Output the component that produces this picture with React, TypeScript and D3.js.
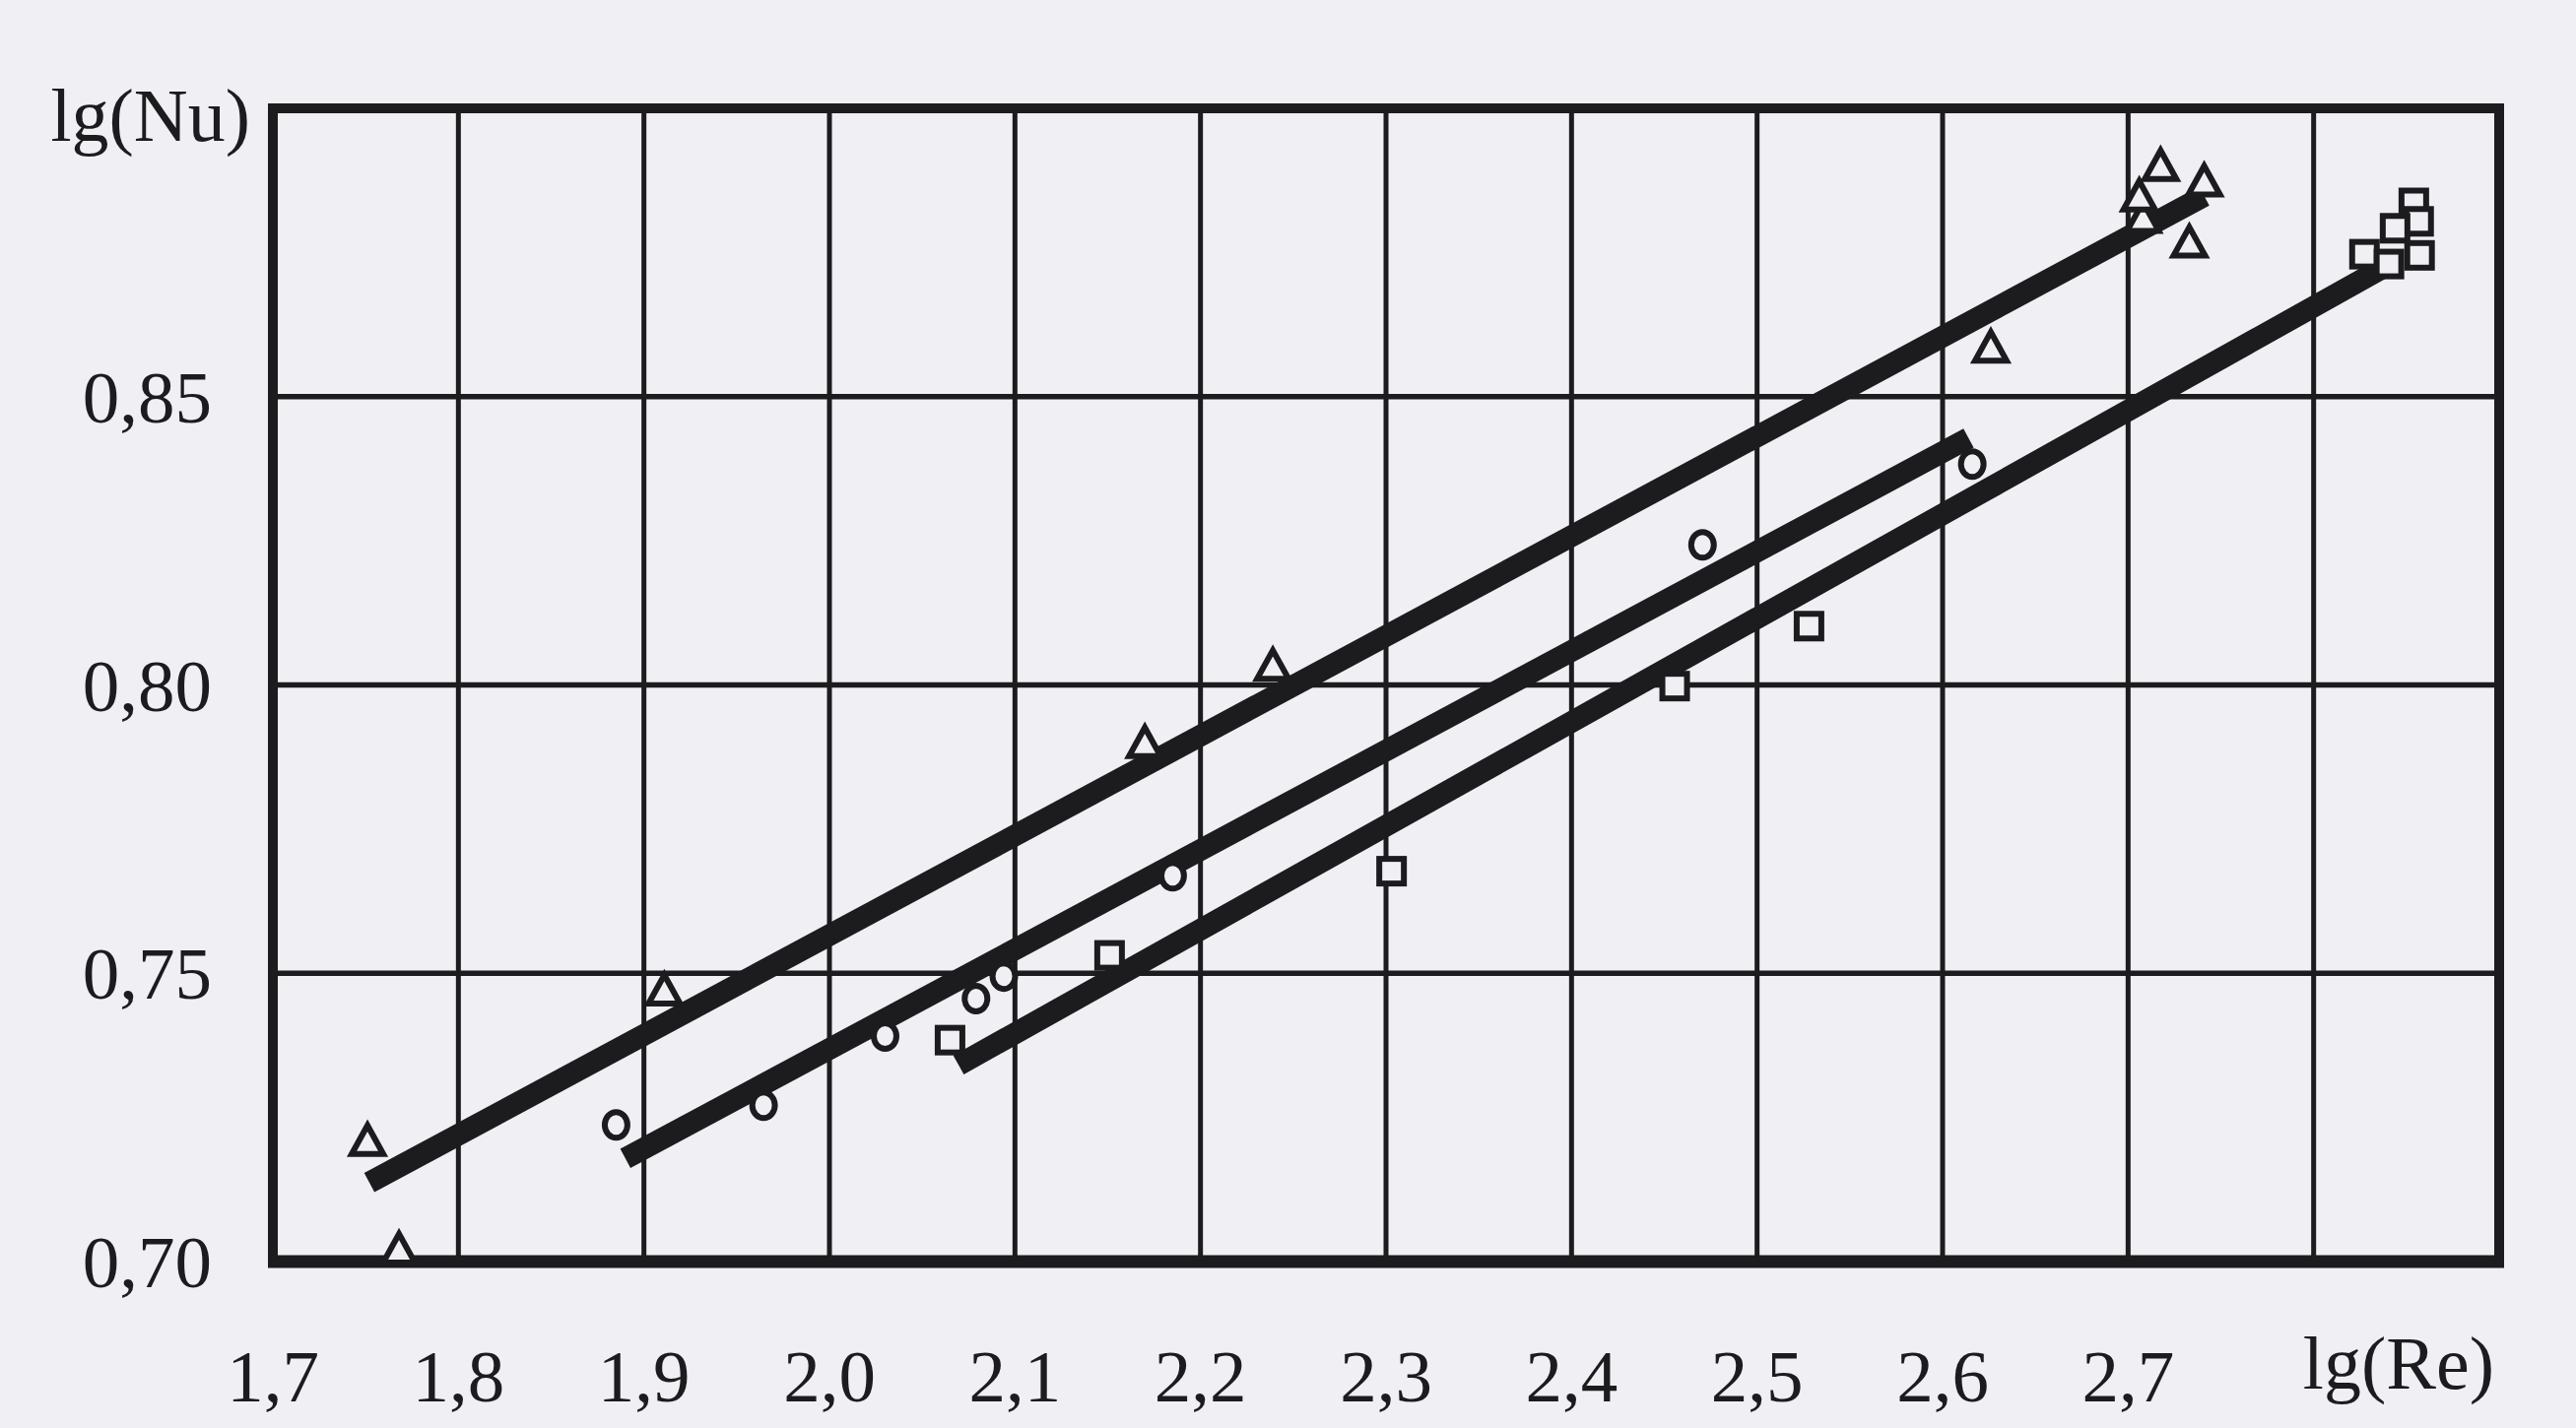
import React from "react";
import * as d3 from "d3";

// ---- data ----
const xTicks = [1.7, 1.8, 1.9, 2.0, 2.1, 2.2, 2.3, 2.4, 2.5, 2.6, 2.7];
const xGrid = [1.8, 1.9, 2.0, 2.1, 2.2, 2.3, 2.4, 2.5, 2.6, 2.7, 2.8];
const yTicks = [0.7, 0.75, 0.8, 0.85];
const yGrid = [0.75, 0.8, 0.85];
const xLabel = "lg(Re)";
const yLabel = "lg(Nu)";

const triangles: [number, number][] = [
  [1.751, 0.7203], [1.768, 0.7015], [1.911, 0.7464], [2.170, 0.7893], [2.239, 0.8027],
  [2.626, 0.8579], [2.708, 0.8804], [2.706, 0.8841], [2.7175, 0.8894], [2.741, 0.8867], [2.733, 0.8761],
];
const circles: [number, number][] = [
  [1.885, 0.7237], [1.9645, 0.7271], [2.030, 0.7391], [2.079, 0.7456], [2.094, 0.7495],
  [2.185, 0.7669], [2.4706, 0.8243], [2.616, 0.8383],
];
const squares: [number, number][] = [
  [2.065, 0.7384], [2.151, 0.7531], [2.303, 0.7677], [2.4556, 0.7998], [2.528, 0.8102],
  [2.854, 0.8836], [2.8566, 0.8804], [2.8439, 0.8792], [2.8571, 0.8745], [2.8274, 0.8747], [2.8406, 0.873],
];
const lineTri: [number, number][] = [[1.752, 0.7137], [2.741, 0.8848]];
const lineCirc: [number, number][] = [[1.890, 0.7179], [2.614, 0.8428]];
const lineSq: [number, number][] = [[2.0696, 0.7341], [2.840, 0.8728]];

const W = 2615, H = 1450;
const INK = "#1c1c1e";
const PAPER = "#efeff4";
const FONT = "'Liberation Serif', 'DejaVu Serif', serif";

export default function App() {
  const x = d3.scaleLinear().domain([1.7, 2.9]).range([277, 2537]);
  const y = d3.scaleLinear().domain([0.7, 0.9]).range([1281, 110]);
  const line = d3.line<[number, number]>().x(d => x(d[0])).y(d => y(d[1]));
  const fmt = (v: number, n: number) => v.toFixed(n).replace(".", ",");
  const tri = (cx: number, cy: number) => {
    const s = 32, h = 29;
    return `M${cx},${cy - (2 * h) / 3}L${cx + s / 2},${cy + h / 3}L${cx - s / 2},${cy + h / 3}Z`;
  };
  return (
    <div style={{ position: "absolute", left: 0, top: 0 }}>
      <svg width={W} height={H} viewBox={`0 0 ${W} ${H}`} style={{ display: "block" }}>
        <rect x={0} y={0} width={W} height={H} fill={PAPER} />
        {/* grid */}
        {xGrid.map(v => (
          <line key={"gx" + v} x1={x(v)} x2={x(v)} y1={y(0.9)} y2={y(0.7)} stroke={INK} strokeWidth={5} />
        ))}
        {yGrid.map(v => (
          <line key={"gy" + v} x1={x(1.7)} x2={x(2.9)} y1={y(v)} y2={y(v)} stroke={INK} strokeWidth={5.5} />
        ))}
        {/* frame */}
        <rect x={x(1.7)} y={y(0.9)} width={x(2.9) - x(1.7)} height={y(0.7) - y(0.9)} fill="none" stroke={INK} strokeWidth={10} />
        <line x1={x(1.7) - 5} x2={x(2.9) + 5} y1={y(0.7)} y2={y(0.7)} stroke={INK} strokeWidth={13} />
        {/* fitted lines */}
        {[lineTri, lineCirc, lineSq].map((l, i) => (
          <path key={"l" + i} d={line(l) || ""} stroke={INK} strokeWidth={22} fill="none" strokeLinecap="butt" />
        ))}
        {/* markers */}
        {circles.map((d, i) => (
          <ellipse key={"c" + i} cx={x(d[0])} cy={y(d[1])} rx={11.5} ry={13} fill={PAPER} stroke={INK} strokeWidth={6} />
        ))}
        {squares.map((d, i) => (
          <rect key={"s" + i} x={x(d[0]) - 12.5} y={y(d[1]) - 12.5} width={25} height={25} fill={PAPER} stroke={INK} strokeWidth={6} />
        ))}
        {triangles.map((d, i) => (
          <path key={"t" + i} d={tri(x(d[0]), y(d[1]))} fill={PAPER} stroke={INK} strokeWidth={6} strokeLinejoin="miter" />
        ))}
        {/* labels */}
        {yTicks.map(v => (
          <text key={"yt" + v} x={215} y={y(v) + 26} textAnchor="end" fontFamily={FONT} fontSize={75} fill={INK}>
            {fmt(v, 2)}
          </text>
        ))}
        {xTicks.map(v => (
          <text key={"xt" + v} x={x(v)} y={1423} textAnchor="middle" fontFamily={FONT} fontSize={75} fill={INK}>
            {fmt(v, 1)}
          </text>
        ))}
        <text x={2532} y={1410} textAnchor="end" fontFamily={FONT} fontSize={76} fill={INK}>{xLabel}</text>
        <text x={254} y={143} textAnchor="end" fontFamily={FONT} fontSize={76} fill={INK}>{yLabel}</text>
      </svg>
    </div>
  );
}
